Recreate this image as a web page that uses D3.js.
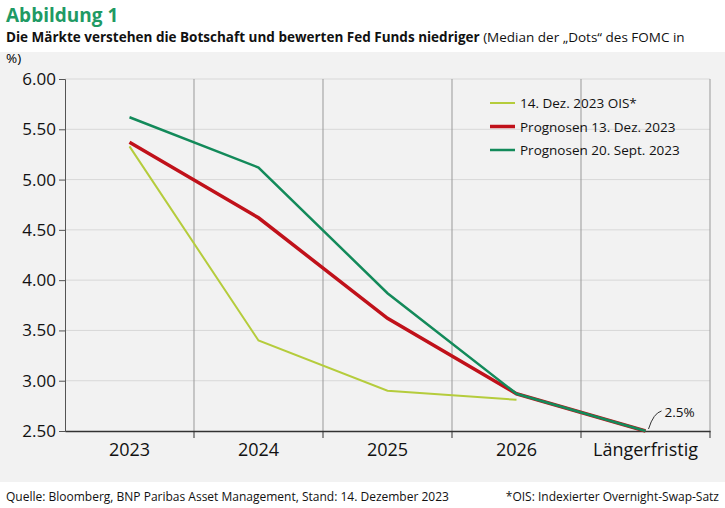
<!DOCTYPE html>
<html><head><meta charset="utf-8">
<script src="https://cdn.jsdelivr.net/npm/d3@7"></script>
<style>body{margin:0;background:#fff;font-family:"Open Sans",sans-serif}</style>
</head><body>
<svg id="c" width="725" height="508"></svg>
<script>
const categories = ["2023", "2024", "2025", "2026", "Längerfristig"];
const oisDec = [5.33, 3.40, 2.90, 2.81, null];
const projDec = [5.37, 4.62, 3.62, 2.87, 2.50];
const projSep = [5.62, 5.12, 3.87, 2.87, 2.50];
const yTicks = [2.5, 3.0, 3.5, 4.0, 4.5, 5.0, 5.5, 6.0];

const series = [
  { name: "14. Dez. 2023 OIS*", values: oisDec, color: "#b5cc3c", width: 2 },
  { name: "Prognosen 13. Dez. 2023", values: projDec, color: "#c0111a", width: 3.5 },
  { name: "Prognosen 20. Sept. 2023", values: projSep, color: "#138a5a", width: 2.5 }
];

const svg = d3.select("#c");
svg.append("rect").attr("x", 0).attr("y", 52).attr("width", 725).attr("height", 430).attr("fill", "#f2f2f2");

svg.append("text").attr("x", 6).attr("y", 22).attr("fill", "#1f9a64")
  .style("font-size", "19px").style("font-weight", "bold").text("Abbildung 1");
const sub = svg.append("text").attr("x", 6).attr("y", 42).style("font-size", "13.5px").attr("fill", "#111");
sub.append("tspan").style("font-weight", "bold").text("Die Märkte verstehen die Botschaft und bewerten Fed Funds niedriger ");
sub.append("tspan").text("(Median der „Dots“ des FOMC in");
svg.append("text").attr("x", 6).attr("y", 63).style("font-size", "13.5px").text("%)");

const x = d3.scaleBand().domain(categories).range([65, 710]);
const y = d3.scaleLinear().domain([2.5, 6]).range([431, 79]);

const g = svg.append("g");
g.selectAll(".hg").data(yTicks.slice(1)).join("line")
  .attr("x1", 65).attr("x2", 710).attr("y1", d => y(d)).attr("y2", d => y(d))
  .attr("stroke", "#d8d8d8");
g.selectAll(".vg").data(categories).join("line")
  .attr("x1", d => x(d) + x.bandwidth()).attr("x2", d => x(d) + x.bandwidth())
  .attr("y1", 79).attr("y2", 431).attr("stroke", "#999");

const yAxis = svg.append("g").attr("transform", "translate(65,0)")
  .call(d3.axisLeft(y).tickValues(yTicks).tickFormat(d3.format(".2f")).tickSize(6));
yAxis.select(".domain").attr("stroke", "#555");
yAxis.selectAll("text").style("font-size", "17px").attr("fill", "#111").attr("font-family", "Open Sans");
yAxis.selectAll(".tick line").attr("stroke", "#555");

const xAxis = svg.append("g").attr("transform", "translate(0,431)")
  .call(d3.axisBottom(x).tickSize(0).tickPadding(12));
xAxis.select(".domain").attr("stroke", "#333").attr("stroke-width", 1.5);
xAxis.selectAll("text").style("font-size", "18px").attr("fill", "#111").attr("font-family", "Open Sans");
svg.selectAll(".xt").data(categories).join("line")
  .attr("x1", d => x(d) + x.bandwidth()).attr("x2", d => x(d) + x.bandwidth())
  .attr("y1", 431).attr("y2", 438).attr("stroke", "#333");

const line = d3.line().defined(d => d != null)
  .x((d, i) => x(categories[i]) + x.bandwidth() / 2).y(d => y(d));
svg.selectAll(".ser").data(series).join("path")
  .attr("d", s => line(s.values)).attr("fill", "none")
  .attr("stroke", s => s.color).attr("stroke-width", s => s.width);

const lg = svg.append("g");
series.forEach((s, i) => {
  const yy = 103 + i * 23.5;
  lg.append("line").attr("x1", 490).attr("x2", 515).attr("y1", yy).attr("y2", yy)
    .attr("stroke", s.color).attr("stroke-width", s.width);
  lg.append("text").attr("x", 520).attr("y", yy + 5).style("font-size", "13.5px").attr("fill", "#111").text(s.name);
});

const lx = x(categories[4]) + x.bandwidth() / 2;
svg.append("path").attr("d", `M${lx + 3},${y(2.5) - 2} Q${lx + 8},${y(2.5) - 18} ${lx + 16},${y(2.5) - 20}`)
  .attr("fill", "none").attr("stroke", "#333");
svg.append("text").attr("x", lx + 19).attr("y", y(2.5) - 14).style("font-size", "13.5px").attr("fill", "#111").text("2.5%");

svg.append("text").attr("x", 6).attr("y", 501).style("font-size", "12px").attr("fill", "#111")
  .text("Quelle: Bloomberg, BNP Paribas Asset Management, Stand: 14. Dezember 2023");
svg.append("text").attr("x", 719).attr("y", 501).attr("text-anchor", "end").style("font-size", "12px").attr("fill", "#111")
  .text("*OIS: Indexierter Overnight-Swap-Satz");
</script>
</body></html>
